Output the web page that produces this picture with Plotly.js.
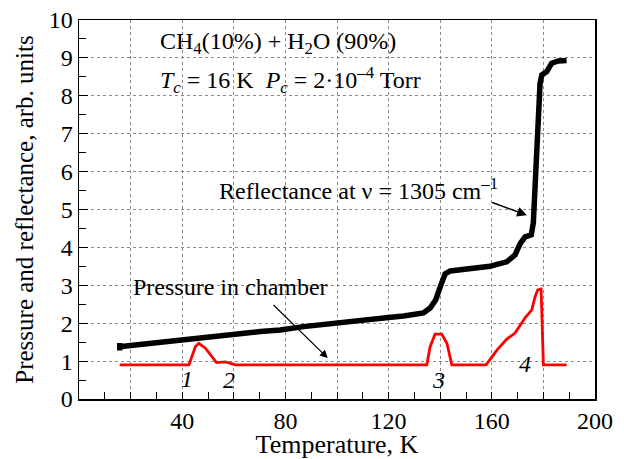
<!DOCTYPE html>
<html>
<head>
<meta charset="utf-8">
<script src="https://cdn.plot.ly/plotly-3.0.1.min.js"></script>
<style>html,body{margin:0;padding:0;background:#fff}#chart{width:624px;height:459px}</style>
</head>
<body>
<div id="chart"></div>
<script>
// Reflectance at 1305 cm^-1 (black)
const reflT = [15.8, 15.8, 15.8, 20, 26, 33, 40, 45, 50.9, 56, 60, 65, 70.3, 78, 87, 96.7, 100, 106, 111.6, 113, 120, 125.8, 130, 133.5, 136.1, 138.3, 140, 141.9, 143.9, 147, 151.6, 155, 159.3, 162, 165.8, 169, 171, 172.9, 175.3, 176.1, 177, 178, 178.7, 179.4, 181.3, 183.2, 185.8, 189];
const reflV = [1.28, 1.48, 1.38, 1.41, 1.45, 1.5, 1.54, 1.58, 1.64, 1.67, 1.7, 1.74, 1.78, 1.82, 1.91, 1.97, 2.0, 2.04, 2.08, 2.1, 2.15, 2.19, 2.22, 2.27, 2.4, 2.62, 2.96, 3.3, 3.38, 3.4, 3.42, 3.45, 3.5, 3.55, 3.62, 3.8, 4.1, 4.28, 4.33, 4.65, 5.96, 7.28, 8.33, 8.55, 8.64, 8.86, 8.92, 8.93];

// Pressure in chamber (red)
const presT = [15.8, 42.6, 45.1, 46.4, 49, 50.9, 53.3, 56.8, 59.3, 60.6, 134.8, 136.1, 138, 140.6, 142.6, 144.5, 157.8, 162, 165.8, 169, 172.9, 175.5, 176.8, 177.8, 179.1, 180, 189];
const presV = [0.9, 0.9, 1.38, 1.47, 1.34, 1.16, 0.96, 0.98, 0.94, 0.9, 0.9, 1.38, 1.71, 1.71, 1.47, 0.9, 0.9, 1.29, 1.58, 1.74, 2.14, 2.35, 2.7, 2.88, 2.9, 0.9, 0.9];

const xTickVals = [0, 20, 40, 60, 80, 100, 120, 140, 160, 180, 200];
const xTickText = ['', '', '40', '', '80', '', '120', '', '160', '', '200'];
const yTickVals = [0, 1, 2, 3, 4, 5, 6, 7, 8, 9, 10];
const yTickText = ['0', '1', '2', '3', '4', '5', '6', '7', '8', '9', '10'];

const FONT = 'Liberation Serif';

const traces = [
  {x: reflT, y: reflV, mode: 'lines', line: {color: '#000000', width: 5.5}, hoverinfo: 'skip', showlegend: false},
  {x: presT, y: presV, mode: 'lines', line: {color: '#ff0000', width: 2.8}, hoverinfo: 'skip', showlegend: false}
];

const annFont = {family: FONT, size: 24, color: '#000'};
const layout = {
  width: 624, height: 459,
  margin: {l: 79, r: 29, t: 20, b: 60},
  paper_bgcolor: '#fff', plot_bgcolor: '#fff',
  font: {family: FONT, color: '#000', size: 22},
  showlegend: false,
  xaxis: {
    range: [0, 200], tickmode: 'array', tickvals: xTickVals, ticktext: xTickText,
    ticks: 'inside', ticklen: 7, tickcolor: '#000', tickwidth: 1,
    minor: {dtick: 10, ticks: 'inside', ticklen: 7, tickcolor: '#000', showgrid: false},
    showgrid: true, gridcolor: '#8a8a8a', griddash: 'dot', gridwidth: 1,
    showline: true, linecolor: '#000', linewidth: 1.5, mirror: true, zeroline: false,
    tickfont: {family: FONT, size: 24, color: '#000'},
    title: {text: 'Temperature, K', font: {family: FONT, size: 26, color: '#000'}, standoff: 8}
  },
  yaxis: {
    range: [0, 10], tickmode: 'array', tickvals: yTickVals, ticktext: yTickText,
    ticks: 'inside', ticklen: 9, tickcolor: '#000', tickwidth: 1,
    minor: {dtick: 0.5, ticks: 'inside', ticklen: 7, tickcolor: '#000', showgrid: false},
    showgrid: true, gridcolor: '#8a8a8a', griddash: 'dot', gridwidth: 1,
    showline: true, linecolor: '#000', linewidth: 1.5, mirror: true, zeroline: false,
    tickfont: {family: FONT, size: 24, color: '#000'},
    title: {text: 'Pressure and reflectance, arb. units', font: {family: FONT, size: 25, color: '#000'}, standoff: 8}
  },
  annotations: [
    {x: 30.6, y: 9.39, xref: 'x', yref: 'y', xanchor: 'left', yanchor: 'middle', showarrow: false, font: annFont,
     text: 'CH<sub>4</sub>(10%) + H<sub>2</sub>O (90%)'},
    {x: 30.6, y: 8.42, xref: 'x', yref: 'y', xanchor: 'left', yanchor: 'middle', showarrow: false, font: annFont,
     text: '<i>T</i><sub><i>c</i></sub> = 16 K  <i>P</i><sub><i>c</i></sub> = 2·10<sup>–4</sup> Torr'},
    {x: 53.5, y: 5.55, xref: 'x', yref: 'y', xanchor: 'left', yanchor: 'middle', showarrow: false, font: annFont,
     text: 'Reflectance at ν = 1305 cm<sup>–1</sup>'},
    {x: 20.3, y: 2.96, xref: 'x', yref: 'y', xanchor: 'left', yanchor: 'middle', showarrow: false, font: annFont,
     text: 'Pressure in chamber'},
    {x: 173.6, y: 4.85, ax: 159.6, ay: 5.2, xref: 'x', yref: 'y', axref: 'x', ayref: 'y', text: '', showarrow: true,
     arrowhead: 2, arrowsize: 1.3, arrowwidth: 1.5, arrowcolor: '#000'},
    {x: 96.4, y: 1.08, ax: 74.8, ay: 2.52, xref: 'x', yref: 'y', axref: 'x', ayref: 'y', text: '', showarrow: true,
     arrowhead: 2, arrowsize: 1.3, arrowwidth: 1.2, arrowcolor: '#000'},
    {x: 41.9, y: 0.52, xref: 'x', yref: 'y', showarrow: false, font: annFont, text: '<i>1</i>'},
    {x: 58.0, y: 0.5, xref: 'x', yref: 'y', showarrow: false, font: annFont, text: '<i>2</i>'},
    {x: 139.3, y: 0.5, xref: 'x', yref: 'y', showarrow: false, font: annFont, text: '<i>3</i>'},
    {x: 172.9, y: 0.93, xref: 'x', yref: 'y', showarrow: false, font: annFont, text: '<i>4</i>'}
  ]
};

Plotly.newPlot('chart', traces, layout, {staticPlot: true, displayModeBar: false});
</script>
</body>
</html>
